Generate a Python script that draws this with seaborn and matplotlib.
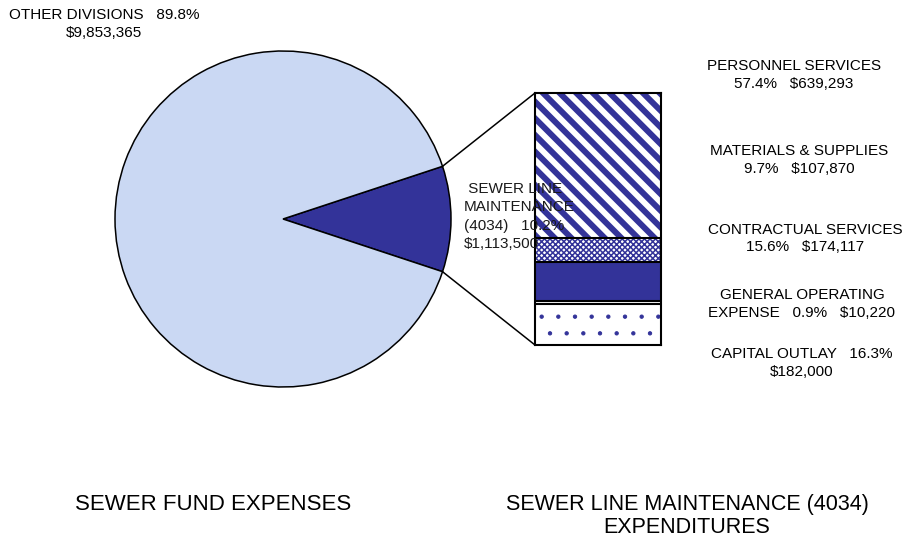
import numpy as np
import pandas as pd
import matplotlib
matplotlib.use("Agg")
import matplotlib.pyplot as plt
import seaborn as sns
from matplotlib.patches import ConnectionPatch

# Sewer fund split: this division vs. all other divisions
fund_names = ["SEWER LINE MAINTENANCE (4034)", "OTHER DIVISIONS"]
fund_amounts = [1113500, 9853365]
fund_pcts = [10.2, 89.8]

# Sewer line maintenance expenditures, stacked bottom to top
cat_names = ["CAPITAL OUTLAY", "GENERAL OPERATING EXPENSE",
             "CONTRACTUAL SERVICES", "MATERIALS & SUPPLIES",
             "PERSONNEL SERVICES"]
cat_amounts = [182000, 10220, 174117, 107870, 639293]
cat_pcts = [16.3, 0.9, 15.6, 9.7, 57.4]

NAVY = "#333399"
PIE_FILL = "#cad8f3"

sns.set_theme(style="white")
plt.rcParams["font.family"] = ["Liberation Sans", "DejaVu Sans"]
plt.rcParams["text.color"] = "black"

W, H = 907, 537
fig = plt.figure(figsize=(W / 100, H / 100), dpi=100)
fig.patch.set_facecolor("white")


def fpos(x, y):
    return x / W, 1 - y / H


# ---- pie -------------------------------------------------------------
cx, cy, r = 283, 219, 168
pax = fig.add_axes([(cx - r) / W, 1 - (cy + r) / H, 2 * r / W, 2 * r / H])
half = 360 * fund_amounts[0] / sum(fund_amounts) / 2
wedges, _ = pax.pie(fund_amounts, startangle=-half, counterclock=True,
                    colors=[NAVY, PIE_FILL],
                    wedgeprops=dict(edgecolor="black", linewidth=1.1))
for w in wedges:
    w.set_clip_on(False)
pax.set_xlim(-1, 1)
pax.set_ylim(-1, 1)
pax.set_aspect("equal")
pax.axis("off")

# ---- stacked bar -----------------------------------------------------
bl, bt, br, bb = 535, 93, 661, 345
bax = fig.add_axes([bl / W, 1 - bb / H, (br - bl) / W, (bb - bt) / H])
tops = np.cumsum(cat_amounts)
styles = [
    dict(face="white", hatch=".", hlw=0.7),          # capital outlay
    dict(face="white", hatch=None, hlw=1.0),         # general operating
    dict(face=NAVY, hatch=None, hlw=1.0),            # contractual
    dict(face="white", hatch="xxxxxx", hlw=1.1),     # materials
    dict(face="white", hatch="\\\\", hlw=4.3),       # personnel
]
df = pd.DataFrame({"group": ["SEWER"] * len(cat_names),
                   "category": cat_names, "top": tops})
# draw the tallest layer first so each lower segment sits over it
for i in range(len(cat_names) - 1, -1, -1):
    before = len(bax.patches)
    sns.barplot(data=df.iloc[[i]], x="group", y="top", ax=bax,
                color=styles[i]["face"], saturation=1, width=1.0,
                edgecolor=NAVY, linewidth=0)
    for p in bax.patches[before:]:
        p.set_facecolor(styles[i]["face"])
        p.set_edgecolor(NAVY)
        p.set_linewidth(0)
        if styles[i]["hatch"]:
            p.set_hatch(styles[i]["hatch"])
            if hasattr(p, "set_hatch_linewidth"):
                p.set_hatch_linewidth(styles[i]["hlw"])
bax.set_xlim(-0.5, 0.5)
bax.set_ylim(0, tops[-1])
for t in tops[:-1]:
    bax.axhline(t, color="black", lw=1.5)
bax.set_xticks([])
bax.set_yticks([])
bax.set_xlabel("")
bax.set_ylabel("")
for s in bax.spines.values():
    s.set_visible(True)
    s.set_color("black")
    s.set_linewidth(1.5)

# ---- connector lines from the slice to the bar -------------------------
ang = np.deg2rad(half)
for sgn, yb in ((1, 1), (-1, 0)):
    con = ConnectionPatch(xyA=(np.cos(ang), sgn * np.sin(ang)), coordsA=pax.transData,
                          xyB=(0, yb), coordsB=bax.transAxes,
                          color="black", lw=1.1)
    fig.add_artist(con)

# ---- labels ------------------------------------------------------------
fs = 11
fig.text(*fpos(104, 24),
         f"{fund_names[1]}   {fund_pcts[1]}%\n${fund_amounts[1]:,}",
         ha="center", va="center", fontsize=fs, linespacing=1.3)
fig.text(*fpos(464, 216.5),
         f" SEWER LINE\nMAINTENANCE\n(4034)   {fund_pcts[0]}%\n${fund_amounts[0]:,}",
         ha="left", va="center", fontsize=fs, linespacing=1.38,
         color="#1a1a1a", zorder=10)

cat_texts = [
    f"CAPITAL OUTLAY   {cat_pcts[0]}%\n${cat_amounts[0]:,}",
    f"GENERAL OPERATING\nEXPENSE   {cat_pcts[1]}%   ${cat_amounts[1]:,}",
    f"CONTRACTUAL SERVICES\n{cat_pcts[2]}%   ${cat_amounts[2]:,}",
    f"MATERIALS & SUPPLIES\n{cat_pcts[3]}%   ${cat_amounts[3]:,}",
    f"PERSONNEL SERVICES\n{cat_pcts[4]}%   ${cat_amounts[4]:,}",
]
cat_pos = [(802, 363), (802, 304), (805, 238.5), (799, 160), (794, 75)]
for txt, (x, y) in zip(cat_texts, cat_pos):
    fig.text(*fpos(x, y), txt, ha="center", va="center",
             fontsize=fs, linespacing=1.3)

fig.text(*fpos(213.5, 504), "SEWER FUND EXPENSES",
         ha="center", va="center", fontsize=16)
fig.text(*fpos(687, 516), "SEWER LINE MAINTENANCE (4034)\nEXPENDITURES",
         ha="center", va="center", fontsize=15.5, linespacing=1.12)

fig.savefig("out.png", dpi=100, facecolor="white")
